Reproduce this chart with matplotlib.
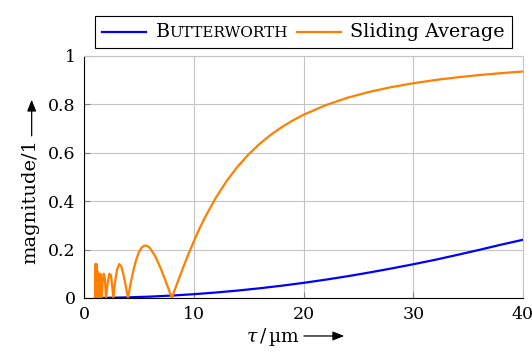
import matplotlib
matplotlib.use('Agg')
import matplotlib.pyplot as plt
from matplotlib.offsetbox import AnchoredOffsetbox, HPacker, TextArea, DrawingArea
from matplotlib.lines import Line2D
from matplotlib.text import OffsetFrom

plt.rcParams['font.family'] = ['DejaVu Serif', 'DejaVu Sans']
plt.rcParams['mathtext.fontset'] = 'dejavuserif'
plt.rcParams['font.size'] = 12.5

# Butterworth
tau_but = [1, 2, 4, 6, 8, 10, 12, 14, 16, 18, 20, 22, 24, 26, 28, 30, 32, 34, 36, 38, 40]
mag_but = [0.0002, 0.0006, 0.0025, 0.0056, 0.010, 0.0156, 0.0225, 0.0306, 0.040, 0.0506,
           0.0624, 0.0755, 0.0897, 0.1052, 0.1218, 0.1392, 0.1577, 0.1778, 0.1985, 0.2201, 0.2404]

# sliding average
tau_sa = [1.0, 1.02, 1.05, 1.08, 1.12, 1.15, 1.2, 1.24, 1.3, 1.36, 1.43, 1.5, 1.6,
          1.7, 1.8, 1.9, 2.0, 2.15, 2.3, 2.45, 2.55, 2.67,
          2.8, 3.0, 3.2, 3.4, 3.6, 3.8, 4.0,
          4.25, 4.5, 4.75, 5.0, 5.25, 5.5, 5.75, 6.0, 6.5, 7.0, 7.5, 8.0,
          8.5, 9.0, 9.5, 10.0, 10.5, 11, 12, 13, 14, 15, 16, 17, 18, 19, 20,
          22, 24, 26, 28, 30, 32, 34, 36, 38, 40]
mag_sa = [0.0, 0.14, 0.0, 0.12, 0.0, 0.14, 0.0, 0.11, 0.0, 0.10, 0.0, 0.10, 0.0,
          0.07, 0.10, 0.08, 0.0, 0.06, 0.10, 0.095, 0.055, 0.0,
          0.06, 0.115, 0.14, 0.13, 0.095, 0.05, 0.0,
          0.0611, 0.1151, 0.1582, 0.1892, 0.2082, 0.2166, 0.2156, 0.2067, 0.1715, 0.1208, 0.0620, 0.0,
          0.0621, 0.1225, 0.1799, 0.2339, 0.2846, 0.3308, 0.4135, 0.4836, 0.5431, 0.5936, 0.6366,
          0.6735, 0.7053, 0.7328, 0.7568,
          0.7962, 0.8270, 0.8515, 0.8710, 0.8870, 0.9003, 0.9114, 0.9207, 0.9287, 0.9355]

blue = '#0000ff'
orange = '#ff7f00'
grey = '#c4c4c4'

fig = plt.figure(figsize=(5.32, 3.56), dpi=100)
ax = fig.add_axes([0.158, 0.163, 0.825, 0.68])

ax.plot(tau_but, mag_but, color=blue, lw=1.6)
ax.plot(tau_sa, mag_sa, color=orange, lw=1.6)

ax.set_xlim(0, 40)
ax.set_ylim(0, 1)
ax.set_xticks([0, 10, 20, 30, 40])
ax.set_yticks([0, 0.2, 0.4, 0.6, 0.8, 1])
ax.set_yticklabels(['0', '0.2', '0.4', '0.6', '0.8', '1'])
ax.grid(True, color=grey, lw=0.8)
ax.set_axisbelow(True)
ax.tick_params(direction='in', length=4, width=0.8, color='#808080', pad=6)
for s in ['top', 'right']:
    ax.spines[s].set_color(grey)
for s in ['left', 'bottom']:
    ax.spines[s].set_color('black')
    ax.spines[s].set_linewidth(0.8)

# axis labels with arrows
xl = ax.set_xlabel(r'$\tau\,$/$\,$µm', labelpad=2, fontsize=13.5)
yl = ax.set_ylabel('magnitude/1', labelpad=6, fontsize=14)
# shift labels so text + arrow is centred like the original
xl.set_position((0.43, 0))
yl.set_position((0, 0.40))
arr = dict(arrowstyle='-|>,head_length=0.55,head_width=0.22', lw=0.9, color='black',
           shrinkA=0, shrinkB=0)
ax.annotate('', xy=(32, 0), xycoords=OffsetFrom(xl, (1, 0.55)),
            xytext=(3, 0), textcoords=OffsetFrom(xl, (1, 0.55)), arrowprops=arr)
ax.annotate('', xy=(0, 28), xycoords=OffsetFrom(yl, (0.55, 1)),
            xytext=(0, 2), textcoords=OffsetFrom(yl, (0.55, 1)), arrowprops=arr)

# legend with small caps
def handle(color):
    da = DrawingArea(32, 8, 0, 0)
    da.add_artist(Line2D([0, 32], [4, 4], color=color, lw=1.6))
    return da

name = HPacker(children=[TextArea('B', textprops=dict(size=13.8)),
                         TextArea('UTTERWORTH', textprops=dict(size=11))],
               sep=0, pad=0, align='baseline')
row = HPacker(children=[handle(blue), name, handle(orange),
                        TextArea('Sliding Average', textprops=dict(size=13.8))],
              sep=6.5, pad=0, align='center')
box = AnchoredOffsetbox(loc='lower center', child=row, pad=0.4, borderpad=0,
                        frameon=True, bbox_to_anchor=(0.5, 1.033),
                        bbox_transform=ax.transAxes)
box.patch.set_edgecolor('black')
box.patch.set_linewidth(0.8)
box.patch.set_boxstyle('square', pad=0)
ax.add_artist(box)

fig.savefig('out.png', dpi=100)
